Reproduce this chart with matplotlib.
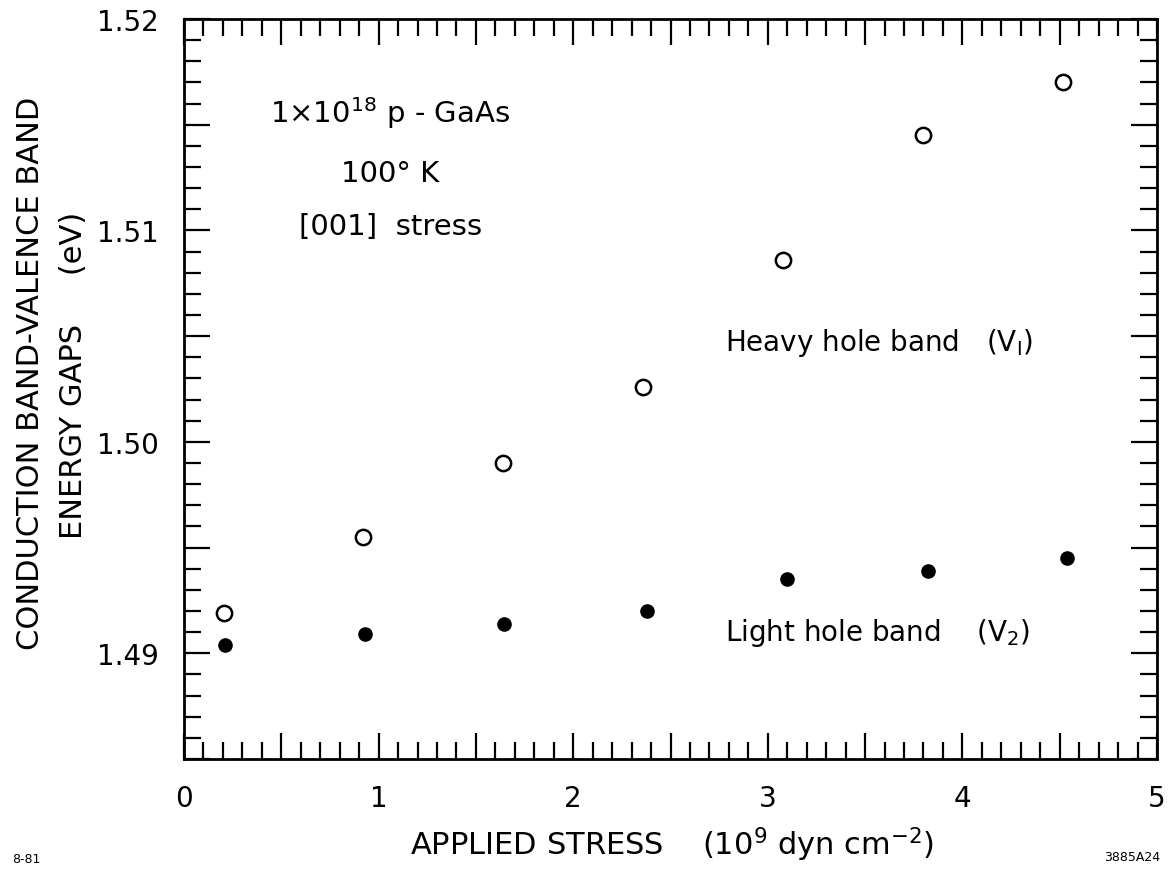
import numpy as np
import matplotlib.pyplot as plt
from matplotlib.ticker import MultipleLocator, FuncFormatter

# Band gaps vs. uniaxial stress, 1e18 p-GaAs at 100 K
stress_heavy = [0.206, 0.920, 1.639, 2.359, 3.078, 3.798, 4.517]
gap_heavy = [1.4919, 1.4955, 1.4990, 1.5026, 1.5086, 1.5145, 1.5170]

stress_light = [0.211, 0.930, 1.644, 2.379, 3.099, 3.823, 4.537]
gap_light = [1.4904, 1.4909, 1.4914, 1.4920, 1.4935, 1.4939, 1.4945]

x_ticklabels = ['0', '1', '2', '3', '4', '5']
y_ticklabels = {1.49: '1.49', 1.50: '1.50', 1.51: '1.51', 1.52: '1.52'}

plt.rcParams['font.family'] = 'DejaVu Sans'

fig = plt.figure(figsize=(11.72, 8.79), dpi=100)
ax = fig.add_axes([184 / 1172, 1 - 760 / 879, 973 / 1172, 740 / 879])

ax.plot(stress_heavy, gap_heavy, 'o', ms=11, mfc='white', mec='black', mew=1.8)
ax.plot(stress_light, gap_light, 'o', ms=9.5, mfc='black', mec='black')

ax.set_xlim(0, 5)
ax.set_ylim(1.485, 1.52)

ax.xaxis.set_major_locator(MultipleLocator(0.5))
ax.xaxis.set_minor_locator(MultipleLocator(0.1))
ax.yaxis.set_major_locator(MultipleLocator(0.005))
ax.yaxis.set_minor_locator(MultipleLocator(0.001))


def fmt_x(v, pos):
    if abs(v - round(v)) < 1e-6:
        return x_ticklabels[int(round(v))]
    return ''


def fmt_y(v, pos):
    for k, lab in y_ticklabels.items():
        if abs(v - k) < 1e-6:
            return lab
    return ''


ax.xaxis.set_major_formatter(FuncFormatter(fmt_x))
ax.yaxis.set_major_formatter(FuncFormatter(fmt_y))

ax.tick_params(which='both', direction='in', top=True, right=True,
               width=1.6, labelsize=20, color='black')
ax.tick_params(which='major', length=19)
ax.tick_params(which='minor', length=12.5)
ax.tick_params(axis='x', which='major', pad=18)
ax.tick_params(axis='y', which='major', pad=18)
for s in ax.spines.values():
    s.set_linewidth(2)

# sample description
ax.text(1.06, 1.5156, '1×10$^{18}$ p - GaAs', fontsize=21, ha='center', va='center')
ax.text(1.06, 1.5127, '100° K', fontsize=21, ha='center', va='center')
ax.text(1.06, 1.5102, '[001]  stress', fontsize=21, ha='center', va='center')

ax.text(2.78, 1.5047, 'Heavy hole band   (V$_{\\rm I}$)', fontsize=20,
        ha='left', va='center')
ax.text(2.78, 1.4910, 'Light hole band    (V$_2$)', fontsize=20,
        ha='left', va='center')

fig.text(31 / 1172, 1 - 373 / 879, 'CONDUCTION BAND-VALENCE BAND',
         rotation=90, fontsize=22, ha='center', va='center')
fig.text(74 / 1172, 1 - 375 / 879, 'ENERGY GAPS     (eV)',
         rotation=90, fontsize=22, ha='center', va='center')
fig.text(672 / 1172, 1 - 845 / 879,
         'APPLIED STRESS    (10$^9$ dyn cm$^{-2}$)',
         fontsize=22, ha='center', va='center')

fig.text(12 / 1172, 1 - 860 / 879, '8-81', fontsize=9, ha='left', va='center')
fig.text(1160 / 1172, 1 - 858 / 879, '3885A24', fontsize=9,
         ha='right', va='center')

fig.savefig('out.png', dpi=100)
